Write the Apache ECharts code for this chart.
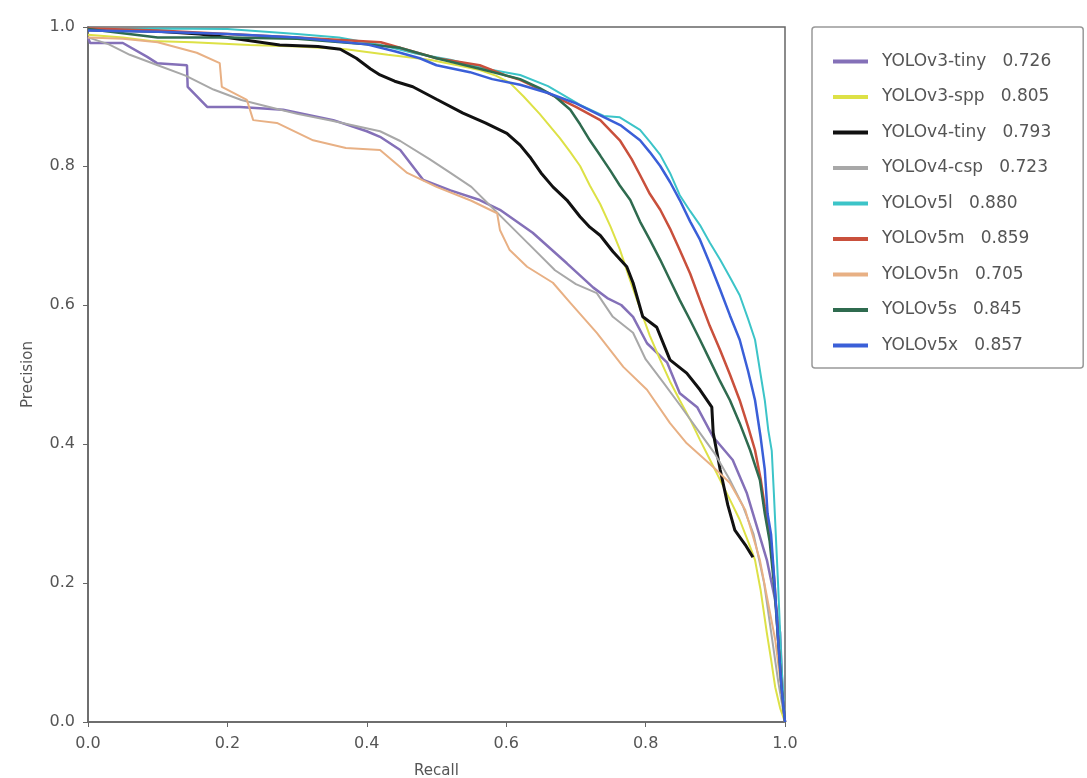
<!DOCTYPE html>
<html>
<head>
<meta charset="utf-8">
<script src="https://cdn.jsdelivr.net/npm/echarts@6/dist/echarts.min.js"></script>
<style>
  html, body { margin: 0; padding: 0; background: #fff; }
  #chart { width: 1087px; height: 778px; }
</style>
</head>
<body>
<div id="chart"></div>
<script>
// model names and AP values shown in the legend
const models = ['YOLOv3-tiny', 'YOLOv3-spp', 'YOLOv4-tiny', 'YOLOv4-csp', 'YOLOv5l', 'YOLOv5m', 'YOLOv5n', 'YOLOv5s', 'YOLOv5x']
const apValues = ['0.726', '0.805', '0.793', '0.723', '0.880', '0.859', '0.705', '0.845', '0.857']

// [recall, precision] points
const v3tiny = [[0,0.985],[0.003,0.977],[0.05,0.977],[0.085,0.957],[0.099,0.948],[0.142,0.945],[0.143,0.914],[0.171,0.885],[0.218,0.885],[0.28,0.881],[0.352,0.866],[0.40,0.85],[0.419,0.842],[0.448,0.823],[0.481,0.78],[0.52,0.765],[0.562,0.751],[0.591,0.737],[0.638,0.704],[0.687,0.66],[0.725,0.625],[0.745,0.61],[0.765,0.6],[0.782,0.583],[0.802,0.545],[0.831,0.517],[0.849,0.473],[0.874,0.453],[0.897,0.41],[0.925,0.377],[0.945,0.33],[0.96,0.28],[0.974,0.233],[0.985,0.18],[0.993,0.128],[0.997,0.03],[1.0,0.0]]
const v3spp = [[0,0.989],[0.05,0.985],[0.09,0.98],[0.15,0.978],[0.232,0.974],[0.3,0.972],[0.37,0.968],[0.43,0.96],[0.49,0.953],[0.53,0.945],[0.562,0.938],[0.585,0.93],[0.605,0.92],[0.625,0.9],[0.648,0.875],[0.677,0.84],[0.692,0.82],[0.706,0.8],[0.72,0.772],[0.735,0.745],[0.75,0.712],[0.763,0.68],[0.778,0.635],[0.792,0.595],[0.806,0.556],[0.821,0.521],[0.835,0.49],[0.849,0.463],[0.864,0.435],[0.878,0.406],[0.892,0.378],[0.907,0.348],[0.921,0.32],[0.935,0.291],[0.947,0.26],[0.957,0.233],[0.965,0.19],[0.974,0.128],[0.98,0.09],[0.986,0.05],[0.993,0.02],[1.0,0.0]]
const v4tiny = [[0,0.996],[0.05,0.995],[0.1,0.994],[0.16,0.99],[0.2,0.985],[0.275,0.974],[0.33,0.972],[0.362,0.968],[0.385,0.955],[0.405,0.94],[0.419,0.931],[0.44,0.922],[0.466,0.914],[0.5,0.896],[0.538,0.876],[0.57,0.862],[0.601,0.847],[0.62,0.83],[0.634,0.813],[0.65,0.79],[0.667,0.77],[0.687,0.751],[0.706,0.727],[0.72,0.712],[0.735,0.7],[0.753,0.677],[0.773,0.655],[0.782,0.632],[0.796,0.583],[0.816,0.568],[0.835,0.521],[0.859,0.502],[0.878,0.478],[0.895,0.453],[0.897,0.416],[0.907,0.363],[0.918,0.312],[0.928,0.276],[0.943,0.255],[0.954,0.237]]
const v4csp = [[0,0.985],[0.03,0.975],[0.06,0.96],[0.1,0.945],[0.14,0.93],[0.18,0.91],[0.22,0.895],[0.26,0.885],[0.3,0.875],[0.35,0.865],[0.419,0.85],[0.448,0.836],[0.49,0.81],[0.52,0.79],[0.55,0.77],[0.575,0.745],[0.6,0.72],[0.64,0.68],[0.67,0.65],[0.7,0.63],[0.73,0.617],[0.753,0.583],[0.782,0.56],[0.8,0.522],[0.825,0.489],[0.85,0.455],[0.875,0.42],[0.9,0.385],[0.92,0.35],[0.94,0.31],[0.955,0.27],[0.97,0.2],[0.98,0.13],[0.99,0.06],[1.0,0.0]]
const v5l = [[0,0.996],[0.1,0.998],[0.2,0.997],[0.3,0.99],[0.36,0.985],[0.42,0.974],[0.47,0.962],[0.52,0.953],[0.57,0.94],[0.62,0.931],[0.66,0.915],[0.706,0.888],[0.74,0.872],[0.763,0.87],[0.792,0.852],[0.806,0.835],[0.821,0.816],[0.835,0.79],[0.849,0.758],[0.864,0.735],[0.878,0.715],[0.892,0.69],[0.907,0.665],[0.921,0.64],[0.935,0.614],[0.947,0.58],[0.957,0.55],[0.965,0.5],[0.971,0.463],[0.976,0.42],[0.981,0.39],[0.984,0.33],[0.99,0.2],[0.995,0.08],[1.0,0.0]]
const v5m = [[0,0.998],[0.1,0.995],[0.2,0.99],[0.3,0.985],[0.42,0.978],[0.5,0.955],[0.562,0.945],[0.6,0.93],[0.62,0.924],[0.66,0.905],[0.7,0.885],[0.735,0.866],[0.763,0.837],[0.78,0.81],[0.792,0.787],[0.806,0.76],[0.821,0.737],[0.835,0.71],[0.849,0.679],[0.864,0.645],[0.878,0.607],[0.892,0.57],[0.907,0.535],[0.921,0.5],[0.935,0.463],[0.947,0.425],[0.957,0.391],[0.965,0.35],[0.971,0.31],[0.978,0.276],[0.985,0.2],[0.99,0.12],[0.995,0.05],[1.0,0.0]]
const v5n = [[0,0.985],[0.05,0.983],[0.1,0.978],[0.156,0.963],[0.189,0.948],[0.192,0.914],[0.228,0.895],[0.237,0.866],[0.271,0.862],[0.323,0.837],[0.37,0.826],[0.419,0.823],[0.458,0.79],[0.5,0.77],[0.55,0.75],[0.587,0.732],[0.591,0.708],[0.605,0.679],[0.63,0.655],[0.667,0.632],[0.692,0.603],[0.73,0.56],[0.768,0.511],[0.802,0.478],[0.835,0.43],[0.859,0.401],[0.897,0.367],[0.921,0.344],[0.943,0.305],[0.964,0.233],[0.986,0.118],[0.997,0.03],[1.0,0.0]]
const v5s = [[0,0.997],[0.1,0.985],[0.2,0.985],[0.3,0.983],[0.4,0.975],[0.448,0.97],[0.5,0.955],[0.562,0.94],[0.62,0.925],[0.648,0.912],[0.67,0.9],[0.692,0.881],[0.706,0.86],[0.72,0.837],[0.735,0.815],[0.749,0.794],[0.763,0.772],[0.778,0.751],[0.792,0.72],[0.806,0.694],[0.821,0.665],[0.835,0.636],[0.849,0.607],[0.864,0.578],[0.878,0.55],[0.892,0.521],[0.907,0.49],[0.921,0.463],[0.935,0.43],[0.95,0.391],[0.964,0.348],[0.971,0.3],[0.978,0.26],[0.985,0.19],[0.99,0.12],[0.995,0.05],[1.0,0.0]]
const v5x = [[0,0.995],[0.1,0.993],[0.2,0.99],[0.3,0.985],[0.4,0.975],[0.44,0.965],[0.476,0.955],[0.5,0.945],[0.548,0.935],[0.58,0.925],[0.62,0.917],[0.66,0.905],[0.7,0.89],[0.735,0.873],[0.765,0.858],[0.792,0.837],[0.806,0.82],[0.821,0.8],[0.835,0.777],[0.849,0.751],[0.864,0.72],[0.878,0.694],[0.892,0.66],[0.907,0.622],[0.921,0.585],[0.935,0.55],[0.947,0.505],[0.957,0.463],[0.965,0.41],[0.971,0.363],[0.975,0.3],[0.98,0.27],[0.985,0.2],[0.99,0.12],[0.995,0.05],[1.0,0.0]]

const curves = [v3tiny, v3spp, v4tiny, v4csp, v5l, v5m, v5n, v5s, v5x]
const colors = ['#8470b8', '#dde146', '#111111', '#a8a8a8', '#3cc4c8', '#c9503c', '#e8b084', '#2f6b4f', '#3a5fd8']
const widths = [2.5, 2, 3, 2, 2, 2.5, 2, 2.5, 2.5]

const chart = echarts.init(document.getElementById('chart'))

const labelStyle = {
  color: '#555',
  fontSize: 16,
  fontFamily: 'DejaVu Sans'
}

function makeAxis(name, gap, margin) {
  return {
    type: 'value',
    min: 0,
    max: 1,
    interval: 0.2,
    name: name,
    nameLocation: 'middle',
    nameGap: gap,
    nameTextStyle: { color: '#555', fontSize: 15, fontFamily: 'DejaVu Sans' },
    axisLine: { show: true, lineStyle: { color: '#666', width: 1.5 } },
    axisTick: { show: true, inside: false, length: 5, lineStyle: { color: '#666' } },
    axisLabel: Object.assign({
      margin: margin,
      formatter: v => v.toFixed(1)
    }, labelStyle),
    splitLine: { show: false }
  }
}

const series = curves.map((pts, i) => ({
  name: models[i] + '   ' + apValues[i],
  type: 'line',
  data: pts,
  showSymbol: false,
  symbol: 'none',
  animation: false,
  lineStyle: { color: colors[i], width: widths[i] },
  itemStyle: { color: colors[i] },
  z: 2 + i
}))

chart.setOption({
  animation: false,
  grid: {
    left: 88,
    top: 27,
    width: 697,
    height: 695,
    outerBoundsMode: 'none',
    containLabel: false,
    show: true,
    borderColor: '#666',
    borderWidth: 1.5
  },
  xAxis: makeAxis('Recall', 42, 14),
  yAxis: makeAxis('Precision', 52, 13),
  legend: {
    orient: 'vertical',
    left: 812,
    top: 27,
    padding: [26, 32, 14, 21],
    itemGap: 18.5,
    itemWidth: 35,
    itemHeight: 4,
    icon: 'rect',
    borderColor: '#999',
    borderWidth: 1.5,
    borderRadius: 3,
    textStyle: {
      color: '#555',
      fontSize: 17,
      lineHeight: 17,
      fontFamily: 'DejaVu Sans',
      padding: [0, 0, 0, 9]
    },
    data: series.map(s => s.name)
  },
  series: series
})
</script>
</body>
</html>
